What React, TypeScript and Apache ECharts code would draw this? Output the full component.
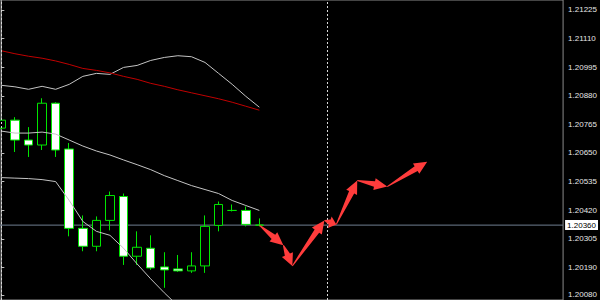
import React, { useEffect, useRef } from "react";
import * as echarts from "echarts";

// Candles (H1 bars), index 0..19
const opens = [1.2075, 1.20782, 1.20702, 1.20682, 1.2085, 1.20666, 1.20347, 1.20275, 1.20379, 1.20475, 1.20235, 1.20267, 1.20192, 1.20184, 1.20176, 1.20196, 1.20359, 1.20419, 1.20419, 1.2036];
const closes = [1.20782, 1.20702, 1.20682, 1.2085, 1.20662, 1.20347, 1.20275, 1.20379, 1.20479, 1.20235, 1.20271, 1.20188, 1.2018, 1.20176, 1.20196, 1.20355, 1.20443, 1.20419, 1.20363, 1.2036];
const lows = [1.20746, 1.20654, 1.20634, 1.20662, 1.20634, 1.20315, 1.20255, 1.20255, 1.20339, 1.202, 1.202, 1.2018, 1.20108, 1.20172, 1.20168, 1.20168, 1.20335, 1.20415, 1.20355, 1.20355];
const highs = [1.20786, 1.20794, 1.20754, 1.2087, 1.20854, 1.2069, 1.20399, 1.20395, 1.20495, 1.20487, 1.20335, 1.20319, 1.20251, 1.2024, 1.20251, 1.20399, 1.20455, 1.20443, 1.20435, 1.20387];

// Indicators
const bandUpper = [1.20922, 1.20916, 1.20906, 1.20918, 1.20906, 1.20926, 1.20958, 1.2097, 1.20966, 1.20994, 1.21002, 1.21022, 1.21034, 1.21041, 1.21037, 1.21014, 1.2097, 1.20926, 1.20878, 1.20834];
const bandMiddle = [1.20738, 1.2073, 1.2073, 1.20734, 1.20726, 1.20702, 1.20678, 1.20658, 1.20642, 1.20622, 1.20603, 1.20583, 1.20559, 1.20539, 1.20519, 1.20503, 1.20487, 1.20459, 1.20439, 1.20419];
const bandLower = [1.20551, 1.20549, 1.20547, 1.20543, 1.20535, 1.20459, 1.20375, 1.20335, 1.20319, 1.20267, 1.20204, 1.20144, 1.20088, 1.20036, 1.2, 1.19992, 1.20004, 1.19992, 1.2, 1.20004];
const maRed = [1.21061, 1.21049, 1.21039, 1.21031, 1.2102, 1.21006, 1.2099, 1.20982, 1.20972, 1.20958, 1.20946, 1.2093, 1.20918, 1.20904, 1.20892, 1.2088, 1.20868, 1.20854, 1.20838, 1.20822];

// Forecast path (bar index, price)
const forecastX = [19, 20.77, 21.43, 23.79, 24.67, 26.21, 28.42, 31.36];
const forecastY = [1.2036, 1.20279, 1.20196, 1.20379, 1.20363, 1.20539, 1.20515, 1.20615];

// Price scale labels
const priceTicks = [1.21225, 1.2111, 1.20995, 1.2088, 1.20765, 1.2065, 1.20535, 1.2042, 1.20305, 1.2019, 1.2008];
const bidPrice = 1.2036;
const separators = [0, 24];

const X_MIN = -0.1;
const X_MAX = 41.37;
const FONT = "Liberation Sans";

export default function App() {
  const ref = useRef<HTMLDivElement>(null);

  useEffect(() => {
    document.body.style.margin = "0";
    document.body.style.background = "#000";
    const chart = echarts.init(ref.current!, null, { renderer: "svg" });

    const candleData = opens.map((o, i) => [i, o, closes[i], lows[i], highs[i]]);
    const toLine = (arr: number[]) => arr.map((v, i) => [i, v]);
    const segs: number[][] = [];
    for (let i = 0; i < forecastX.length - 1; i++) {
      segs.push([forecastX[i], forecastY[i], forecastX[i + 1], forecastY[i + 1]]);
    }

    const renderArrow = (params: any, api: any) => {
      const a = api.coord([api.value(0), api.value(1)]);
      const b = api.coord([api.value(2), api.value(3)]);
      const dx = b[0] - a[0];
      const dy = b[1] - a[1];
      const L = Math.hypot(dx, dy) || 1;
      const ux = dx / L, uy = dy / L;
      const nx = -uy, ny = ux;
      const head = Math.min(13, L * 0.55);
      const hw = 6, sw = 2.8, tw = 0.5;
      const cx = b[0] - ux * head, cy = b[1] - uy * head;
      const points = [
        [a[0] + nx * tw, a[1] + ny * tw],
        [cx + nx * sw, cy + ny * sw],
        [cx + nx * hw, cy + ny * hw],
        [b[0], b[1]],
        [cx - nx * hw, cy - ny * hw],
        [cx - nx * sw, cy - ny * sw],
        [a[0] - nx * tw, a[1] - ny * tw],
      ];
      return { type: "polygon", shape: { points }, style: { fill: "#ff3c3c" } };
    };

    const lineSeries = (data: number[][], color: string, extra: any = {}) => ({
      type: "line",
      data,
      showSymbol: false,
      symbol: "none",
      lineStyle: { color, width: 1 },
      z: 3,
      silent: true,
      ...extra,
    });

    const separatorMarks = {
      silent: true,
      symbol: ["none", "none"],
      data: separators.map((s) => ({
        xAxis: s,
        lineStyle: { color: "#d8d8d8", type: [2, 2], width: 1 },
        label: { show: false },
      })),
    };

    chart.setOption({
      animation: false,
      backgroundColor: "#000",
      grid: {
        left: 0,
        right: 36,
        top: 0,
        bottom: -2,
        show: true,
        borderColor: "#8a8a8a",
        borderWidth: 1,
        backgroundColor: "transparent",
      },
      xAxis: {
        type: "value",
        min: X_MIN,
        max: X_MAX,
        show: false,
      },
      yAxis: {
        type: "value",
        position: "right",
        min: 1.20059,
        max: 1.21265,
        scale: true,
        splitLine: { show: false },
        axisLine: { show: true, lineStyle: { color: "#9a9a9a", width: 1 } },
        axisTick: {
          show: true,
          length: 3,
          customValues: priceTicks,
          lineStyle: { color: "#bdbdbd" },
        },
        axisLabel: {
          show: true,
          customValues: priceTicks,
          margin: 5,
          color: "#e6e6e6",
          fontSize: 8,
          fontFamily: FONT,
          formatter: (v: number) => v.toFixed(5),
        },
      },
      series: [
        lineSeries(
          [
            [X_MIN, bidPrice],
            [X_MAX, bidPrice],
          ],
          "#6f7f90",
          {
            z: 1,
            clip: false,
            endLabel: {
              show: true,
              distance: 2,
              formatter: () => bidPrice.toFixed(5),
              backgroundColor: "#ffffff",
              color: "#000000",
              fontSize: 8,
              fontFamily: FONT,
              padding: [1, 2, 1, 2],
            },
          }
        ),
        {
          type: "candlestick",
          data: candleData,
          encode: { x: 0, y: [1, 2, 3, 4] },
          barWidth: 9,
          z: 2,
          itemStyle: {
            color: "#000000",
            color0: "#ffffff",
            borderColor: "#00e600",
            borderColor0: "#00e600",
            borderColorDoji: "#00e600",
            borderWidth: 1,
          },
        },
        lineSeries(toLine(bandUpper), "#c4c4c4"),
        lineSeries(toLine(bandMiddle), "#c4c4c4", { markLine: separatorMarks }),
        lineSeries(toLine(bandLower), "#c4c4c4"),
        lineSeries(toLine(maRed), "#c00000"),
        {
          type: "custom",
          data: segs,
          encode: { x: [0, 2], y: [1, 3] },
          renderItem: renderArrow,
          z: 5,
          silent: true,
        },
      ],
    });

    return () => chart.dispose();
  }, []);

  return (
    <div
      ref={ref}
      style={{ position: "absolute", left: 0, top: 0, width: 600, height: 300, background: "#000" }}
    />
  );
}
